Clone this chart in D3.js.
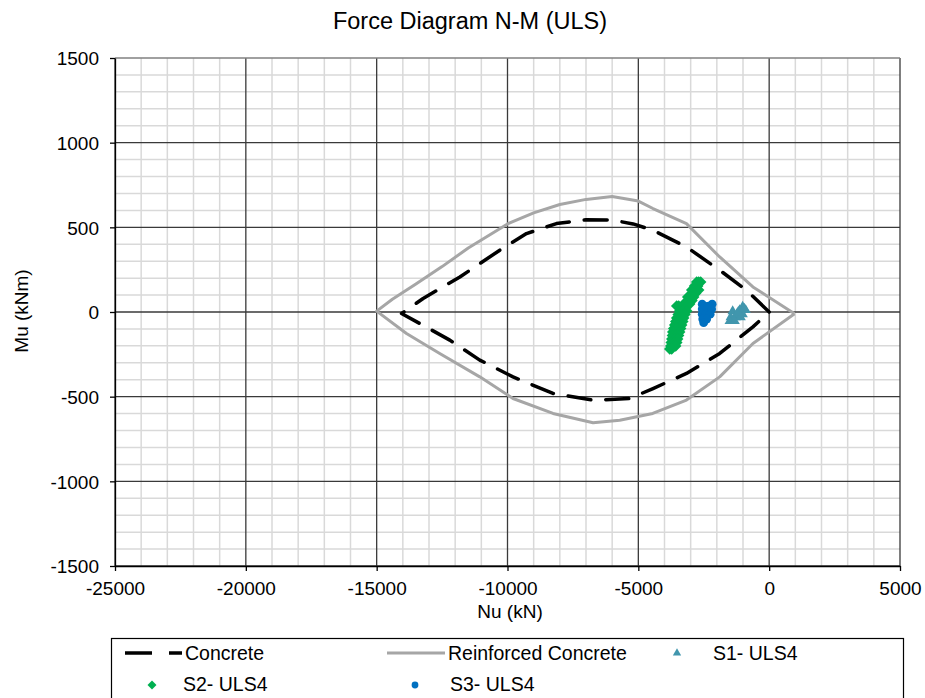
<!DOCTYPE html>
<html>
<head>
<meta charset="utf-8">
<script src="https://cdn.jsdelivr.net/npm/d3@7/dist/d3.min.js"></script>
<style>
  html, body { margin: 0; padding: 0; background: #fff; }
  svg { display: block; font-family: "Liberation Sans", Arial, sans-serif; }
</style>
</head>
<body>
<svg id="chart" width="925" height="698"></svg>
<script>
// Axis ticks
const nMajorTicks = [-25000, -20000, -15000, -10000, -5000, 0, 5000];
const mMajorTicks = [-1500, -1000, -500, 0, 500, 1000, 1500];
const nMinorStep = 1000;
const mMinorStep = 100;

// Interaction diagram: plain concrete section (closed loop)
const concreteN = [0, -870, -1890, -3160, -4440, -5200, -6000, -7000, -8130, -9275, -10295, -11820, -13225, -14050,
                   -13350, -12205, -11060, -9790, -8260, -6730, -5330, -4440, -3160, -1890, -620, 0];
const concreteM = [0, 129, 247, 384, 483, 520, 543, 545, 522, 463, 365, 207, 80, -9,
                   -68, -166, -284, -383, -481, -521, -511, -452, -363, -245, -88, 0];

// Interaction diagram: reinforced concrete section (closed loop)
const rcN = [970, -620, -1890, -3160, -4440, -5000, -6000, -7000, -8000, -9000, -10000, -11500, -12500, -13500, -14400, -15000,
             -13860, -12590, -11060, -9790, -8260, -6730, -5710, -4450, -3160, -1890, -620, 970];
const rcM = [-10, 148, 325, 522, 611, 655, 682, 665, 635, 585, 520, 378, 268, 165, 75, 5,
             -127, -245, -383, -511, -599, -654, -639, -599, -520, -383, -186, -10];

// Load case S1
const s1N = [-1013, -1395, -1127, -898, -1242, -1013, -1471, -1280, -1089, -1509, -1318, -1180, -950];
const s1M = [31, 5, 11, 11, -13, -13, -31, -31, -31, -54, -54, 0, 20];

// Load case S2
const s2N = [-2770, -2693, -2617,
             -2850, -2730,
             -2961, -2884, -2770, -2693,
             -2920, -2810,
             -3113, -3000, -2884,
             -3080, -2950,
             -3266, -3150, -3037,
             -3534, -3457,
             -3340, -3190,
             -3419, -3300, -3152,
             -3480, -3340, -3220,
             -3534, -3400, -3266,
             -3570, -3440, -3300,
             -3610, -3480, -3343,
             -3650, -3520, -3380,
             -3686, -3550, -3419,
             -3700, -3580, -3460,
             -3724, -3610, -3495,
             -3745, -3630, -3530,
             -3762, -3650, -3572,
             -3800, -3724];
const s2M = [177, 177, 177,
             153, 153,
             130, 130, 130, 130,
             110, 110,
             89, 89, 89,
             68, 68,
             47, 47, 47,
             35, 35,
             26, 26,
             6, 6, 6,
             -15, -15, -15,
             -35, -35, -35,
             -56, -56, -56,
             -77, -77, -77,
             -97, -97, -97,
             -118, -118, -118,
             -139, -139, -139,
             -159, -159, -159,
             -180, -180, -180,
             -201, -201, -201,
             -219, -219];

// Load case S3
const s3N = [-2560, -2178, -2465, -2312, -2560, -2388, -2197, -2560, -2407, -2254, -2541, -2388, -2503];
const s3M = [46, 46, 35, 35, 17, 17, 17, -13, -13, -13, -42, -42, -63];

const svg = d3.select("#chart");
const plot = { left: 115, right: 900, top: 58, bottom: 566 };

const x = d3.scaleLinear().domain([-25000, 5000]).range([plot.left, plot.right]);
const y = d3.scaleLinear().domain([-1500, 1500]).range([plot.bottom, plot.top]);

// Minor grid
const nMinor = d3.range(-25000, 5000 + 1, nMinorStep).filter(v => v % 5000 !== 0);
const mMinor = d3.range(-1500, 1500 + 1, mMinorStep).filter(v => v % 500 !== 0);
const grid = svg.append("g");
grid.selectAll(".vmin").data(nMinor).join("line")
  .attr("x1", d => x(d)).attr("x2", d => x(d))
  .attr("y1", plot.top).attr("y2", plot.bottom)
  .attr("stroke", "#d9d9d9").attr("stroke-width", 1.5);
grid.selectAll(".hmin").data(mMinor).join("line")
  .attr("x1", plot.left).attr("x2", plot.right)
  .attr("y1", d => y(d)).attr("y2", d => y(d))
  .attr("stroke", "#d9d9d9").attr("stroke-width", 1.5);

// Major grid
grid.selectAll(".vmaj").data(nMajorTicks).join("line")
  .attr("x1", d => x(d)).attr("x2", d => x(d))
  .attr("y1", plot.top).attr("y2", plot.bottom)
  .attr("stroke", "#3a3a3a").attr("stroke-width", 1.3);
grid.selectAll(".hmaj").data(mMajorTicks).join("line")
  .attr("x1", plot.left).attr("x2", plot.right)
  .attr("y1", d => y(d)).attr("y2", d => y(d))
  .attr("stroke", d => d === 1500 ? "#808080" : "#3a3a3a").attr("stroke-width", 1.3);

// Axes (plain hyphen for negative labels)
const fmt = d => String(d);
const xAxis = svg.append("g").attr("transform", `translate(0,${plot.bottom})`)
  .call(d3.axisBottom(x).tickValues(nMajorTicks).tickSize(5).tickSizeOuter(0).tickPadding(7).tickFormat(fmt));
const yAxis = svg.append("g").attr("transform", `translate(${plot.left},0)`)
  .call(d3.axisLeft(y).tickValues(mMajorTicks).tickSize(5).tickSizeOuter(0).tickPadding(11).tickFormat(fmt));
[xAxis, yAxis].forEach(a => {
  a.select(".domain").attr("stroke", "#000").attr("stroke-width", 1.3);
  a.selectAll(".tick line").attr("stroke", "#000").attr("stroke-width", 1.3);
  a.selectAll("text").attr("font-size", 19).attr("fill", "#000")
    .attr("font-family", "'Liberation Sans', Arial, sans-serif");
});
xAxis.selectAll("text").attr("dy", "0.88em");
yAxis.selectAll("text").attr("dy", "0.36em");

// Curves
const loop = (ns, ms) => ns.map((n, i) => [n, ms[i]]);
const line = d3.line().x(d => x(d[0])).y(d => y(d[1]));

svg.append("path").datum(loop(rcN, rcM))
  .attr("d", line).attr("fill", "none")
  .attr("stroke", "#a6a6a6").attr("stroke-width", 3).attr("stroke-linejoin", "round");

svg.append("path").datum(loop(concreteN, concreteM))
  .attr("d", line).attr("fill", "none")
  .attr("stroke", "#000").attr("stroke-width", 3.5)
  .attr("stroke-dasharray", "23,15").attr("stroke-linecap", "round").attr("stroke-linejoin", "round");

// Markers
const diamond = d3.symbol().type(d3.symbolSquare).size(66)();
const circle = d3.symbol().type(d3.symbolCircle).size(60)();
const triangle = d3.symbol().type(d3.symbolTriangle).size(46)();

const colS1 = "#4196ad", colS2 = "#00b050", colS3 = "#0070c0";

svg.append("g").selectAll("path").data(loop(s1N, s1M)).join("path")
  .attr("d", triangle).attr("fill", colS1)
  .attr("transform", d => `translate(${x(d[0])},${y(d[1])})`);
svg.append("g").selectAll("path").data(loop(s2N, s2M)).join("path")
  .attr("d", diamond).attr("fill", colS2)
  .attr("transform", d => `translate(${x(d[0])},${y(d[1])}) rotate(45)`);
svg.append("g").selectAll("path").data(loop(s3N, s3M)).join("path")
  .attr("d", circle).attr("fill", colS3)
  .attr("transform", d => `translate(${x(d[0])},${y(d[1])})`);

// Titles
svg.append("text").attr("x", 470).attr("y", 29).attr("text-anchor", "middle")
  .attr("font-size", 23.5).attr("fill", "#000").text("Force Diagram N-M (ULS)");
svg.append("text").attr("x", 510).attr("y", 618).attr("text-anchor", "middle")
  .attr("font-size", 19).attr("fill", "#000").text("Nu (kN)");
svg.append("text").attr("transform", "translate(28,311) rotate(-90)").attr("text-anchor", "middle")
  .attr("font-size", 19).attr("fill", "#000").text("Mu (kNm)");

// Legend
const lg = svg.append("g");
lg.append("rect").attr("x", 111.5).attr("y", 638.5).attr("width", 792).attr("height", 70)
  .attr("fill", "#fff").attr("stroke", "#000").attr("stroke-width", 1.2);
const fs = 19.5;
// Concrete
lg.append("line").attr("x1", 125).attr("x2", 182).attr("y1", 653).attr("y2", 653)
  .attr("stroke", "#000").attr("stroke-width", 3.5).attr("stroke-dasharray", "27,17").attr("stroke-linecap", "butt");
lg.append("text").attr("x", 185).attr("y", 659.5).attr("font-size", fs).text("Concrete");
// Reinforced concrete
lg.append("line").attr("x1", 387).attr("x2", 445).attr("y1", 653).attr("y2", 653)
  .attr("stroke", "#a6a6a6").attr("stroke-width", 3);
lg.append("text").attr("x", 448).attr("y", 659.5).attr("font-size", fs).text("Reinforced Concrete");
// S1
lg.append("path").attr("d", d3.symbol().type(d3.symbolTriangle).size(30)())
  .attr("fill", colS1).attr("transform", "translate(677,653)");
lg.append("text").attr("x", 713).attr("y", 659.5).attr("font-size", fs).text("S1- ULS4");
// S2
lg.append("path").attr("d", d3.symbol().type(d3.symbolSquare).size(40)())
  .attr("fill", colS2).attr("transform", "translate(152,685) rotate(45)");
lg.append("text").attr("x", 183).attr("y", 690.5).attr("font-size", fs).text("S2- ULS4");
// S3
lg.append("path").attr("d", d3.symbol().type(d3.symbolCircle).size(36)())
  .attr("fill", colS3).attr("transform", "translate(415,685)");
lg.append("text").attr("x", 450).attr("y", 690.5).attr("font-size", fs).text("S3- ULS4");
</script>
</body>
</html>
